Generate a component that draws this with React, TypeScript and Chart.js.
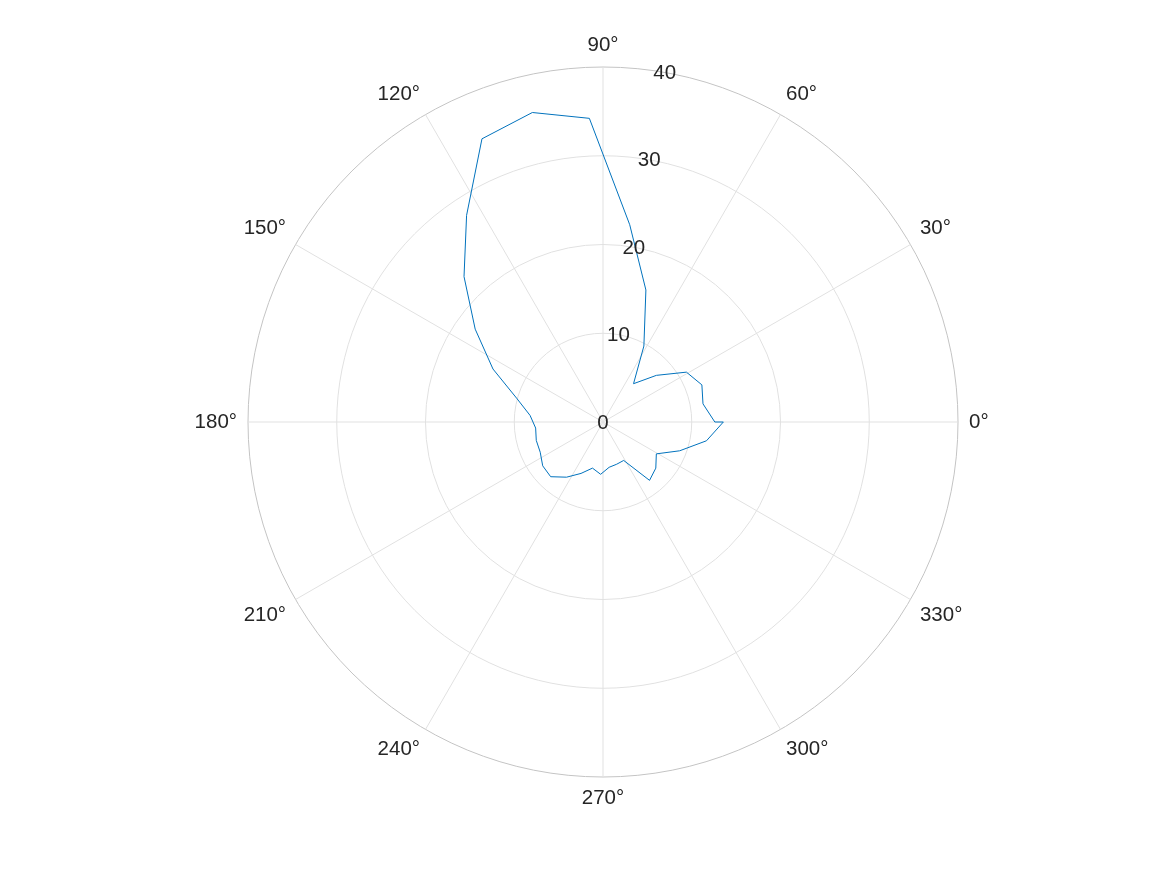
import { useEffect, useRef } from 'react';
import { Chart, registerables } from 'chart.js';

Chart.register(...registerables);

// Angular resolution of the radial scale: 420 = LCM of 35 data steps and 12 grid steps.
const STEPS = 420;
const DATA_STEP = 12; // 420 / 35 -> 10.2857° between samples (linspace(0, 2π, 36))
const GRID_STEP = 35; // 420 / 12 -> 30° between spokes

// Radius values at theta = k * 360/35 degrees, k = 0..35 (counter-clockwise from 0°)
const rValues = [
  12.6, 11.45, 11.9, 10.95, 7.99, 5.52, 9.72, 15.64, 22.43, 34.25, 35.77, 34.7,
  27.9, 22.66, 17.8, 13.76, 10.1, 8.25, 7.62, 7.8, 7.85, 8.4, 8.53, 7.45,
  6.3, 5.33, 5.9, 5.15, 5.0, 4.92, 8.41, 7.9, 7.0, 9.23, 11.85, 13.56,
];

const thetaTickAngles = [0, 30, 60, 90, 120, 150, 180, 210, 240, 270, 300, 330];
const thetaTickLabels = ['0°', '30°', '60°', '90°', '120°', '150°', '180°', '210°', '240°', '270°', '300°', '330°'];
const rTickValues = [0, 10, 20, 30, 40];
const rTickLabels = ['0', '10', '20', '30', '40'];
const rLabelAngle = 80;

const LINE_COLOR = '#0072BD';
const GRID_COLOR = '#e1e1e1';
const OUTER_COLOR = '#c4c4c4';
const TEXT_COLOR = '#262626';
const FONT_SIZE = 20.5;
const FONT = `${FONT_SIZE}px "Liberation Sans", Arial, Helvetica, sans-serif`;
const LABEL_PAD = 11;

// index on the (clockwise) radial scale for a counter-clockwise math angle
const indexForAngle = (deg: number) => (STEPS - (deg * STEPS) / 360) % STEPS;

const labels = Array.from({ length: STEPS }, (_, j) => String(((STEPS - j) % STEPS) * 360 / STEPS));
const seriesData: (number | null)[] = new Array(STEPS + 1).fill(null);
rValues.forEach((r, k) => {
  seriesData[STEPS - k * DATA_STEP] = r;
});

const polarLabels = {
  id: 'polarLabels',
  afterDatasetsDraw(chart: any) {
    const s = chart.scales.r;
    const ctx = chart.ctx as CanvasRenderingContext2D;
    ctx.save();
    ctx.font = FONT;
    ctx.fillStyle = TEXT_COLOR;
    ctx.textBaseline = 'middle';
    ctx.textAlign = 'center';
    const R = s.drawingArea;
    thetaTickAngles.forEach((a, i) => {
      const label = thetaTickLabels[i];
      const p = s.getPointPosition(indexForAngle(a), R + LABEL_PAD);
      const rad = (a * Math.PI) / 180;
      const c = Math.cos(rad);
      const sn = Math.sin(rad);
      const w = ctx.measureText(label).width;
      const h = FONT_SIZE;
      let cx = p.x;
      let cy = p.y;
      if (c > 0.01) cx = p.x + w / 2;
      else if (c < -0.01) cx = p.x - w / 2;
      if (sn > 0.01) cy = p.y - h / 2;
      else if (sn < -0.01) cy = p.y + h / 2;
      ctx.fillText(label, cx, cy);
    });
    rTickValues.forEach((v, i) => {
      const d = s.getDistanceFromCenterForValue(v);
      const p = s.getPointPosition(indexForAngle(rLabelAngle), d);
      ctx.fillText(rTickLabels[i], p.x, p.y + 1);
    });
    ctx.restore();
  },
};

export default function App() {
  const ref = useRef<HTMLCanvasElement>(null);
  useEffect(() => {
    const canvas = ref.current;
    if (!canvas) return;
    const chart = new Chart(canvas, {
      type: 'radar',
      data: {
        labels,
        datasets: [
          {
            data: seriesData,
            borderColor: LINE_COLOR,
            backgroundColor: 'rgba(0,0,0,0)',
            borderWidth: 1,
            pointRadius: 0,
            pointHoverRadius: 0,
            fill: false,
            spanGaps: true,
            tension: 0,
          },
        ],
      },
      options: {
        animation: false,
        responsive: false,
        devicePixelRatio: 1,
        layout: { padding: { left: 248, right: 209, top: 67, bottom: 98 } },
        plugins: {
          legend: { display: false },
          tooltip: { enabled: false },
        },
        scales: {
          r: {
            type: 'radialLinear',
            min: 0,
            max: 40,
            startAngle: 90,
            ticks: { display: false, stepSize: 10 },
            pointLabels: { display: false },
            grid: {
              circular: true,
              lineWidth: 1,
              color: (c: any) => (c.tick && c.tick.value === 40 ? OUTER_COLOR : GRID_COLOR),
            },
            angleLines: {
              display: true,
              color: GRID_COLOR,
              lineWidth: (c: any) => (c.index % GRID_STEP === 0 ? 1 : 0),
            },
          },
        },
      } as any,
      plugins: [polarLabels],
    });
    return () => chart.destroy();
  }, []);
  return (
    <div style={{ position: 'absolute', left: 0, top: 0, width: 1167, height: 875, background: '#fff' }}>
      <canvas ref={ref} width={1167} height={875} style={{ display: 'block', width: 1167, height: 875 }} />
    </div>
  );
}
